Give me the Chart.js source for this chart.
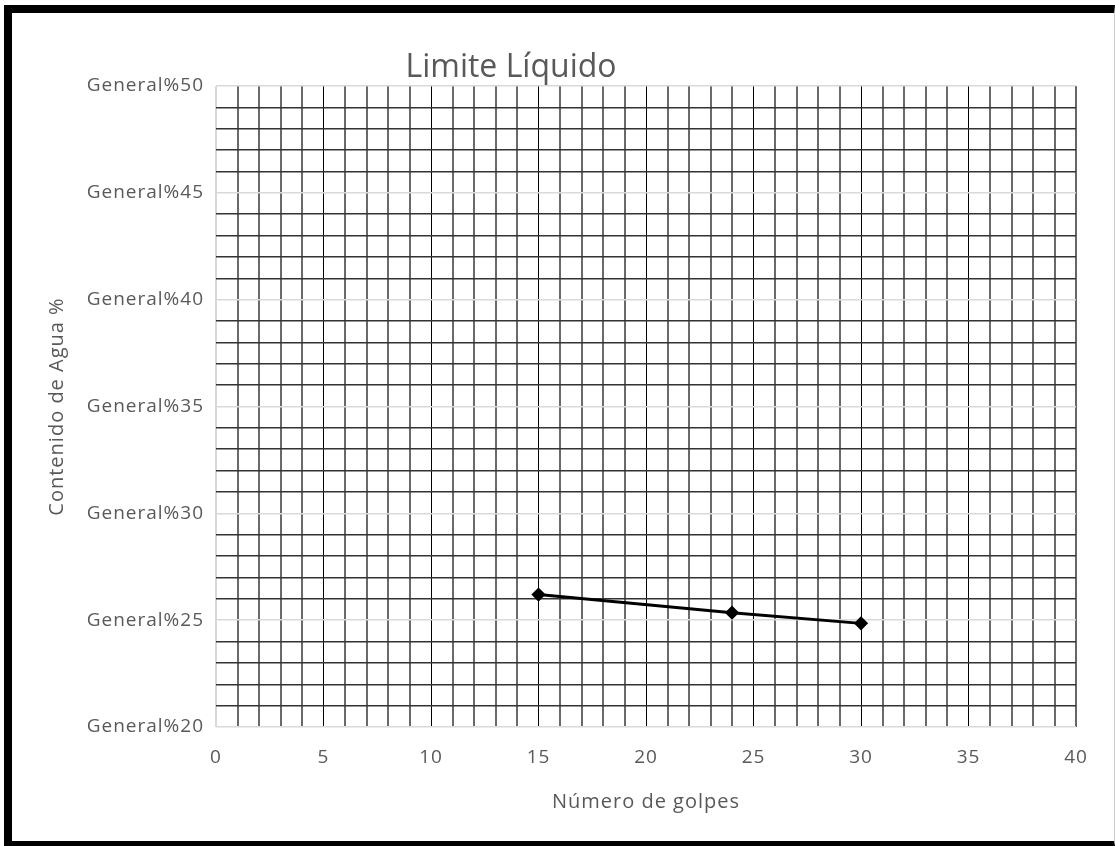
<!DOCTYPE html>
<html>
<head>
<meta charset="utf-8">
<script src="https://cdn.jsdelivr.net/npm/chart.js@4/dist/chart.umd.min.js"></script>
<style>
  body { margin: 0; background: #fff; overflow: hidden; }
  #wrap { position: absolute; left: 0; top: 0; width: 1115px; height: 846px; }
  #frame {
    position: absolute; left: 4px; top: 5px; width: 1111px; height: 841px;
    box-sizing: border-box; pointer-events: none;
    border-left: 8px solid #000; border-top: 8px solid #000;
    border-bottom: 5px solid #000; border-right: 1px solid #ccc;
  }
</style>
</head>
<body>
<div id="wrap"><canvas id="chart"></canvas></div>
<div id="frame"></div>
<script>
  // Limite liquido: golpes vs contenido de agua
  const golpes = [15, 24, 30];
  const contenidoAgua = [26.2, 25.35, 24.85];
  const xTicks = [0, 5, 10, 15, 20, 25, 30, 35, 40];
  const yTicks = [20, 25, 30, 35, 40, 45, 50];
  const chartTitle = 'Limite Líquido';

  const textColor = '#595959';

  // Excel text is spaced wider than Open Sans, widen axis text a bit
  const spacingPlugin = {
    id: 'spacing',
    beforeDraw(chart) {
      chart.ctx.letterSpacing = '1px';
    }
  };

  // draws the title where Excel put it (not centred on the canvas)
  const titlePlugin = {
    id: 'excelTitle',
    afterDraw(chart) {
      const c = chart.ctx;
      c.save();
      c.letterSpacing = '0px';
      c.font = '32px "Open Sans"';
      c.fillStyle = textColor;
      c.textAlign = 'center';
      c.textBaseline = 'middle';
      c.fillText(chartTitle, 511, 68);
      c.restore();
    }
  };

  const ctx = document.getElementById('chart').getContext('2d');

  new Chart(ctx, {
    type: 'scatter',
    data: {
      datasets: [{
        label: 'Contenido de Agua',
        data: golpes.map((g, i) => ({ x: g, y: contenidoAgua[i] })),
        showLine: true,
        borderColor: '#000',
        backgroundColor: '#000',
        borderWidth: 3,
        pointStyle: 'rectRot',
        pointRadius: 5,
        tension: 0
      }]
    },
    options: {
      responsive: true,
      maintainAspectRatio: false,
      animation: false,
      layout: { padding: { left: 12, right: 39, top: 86, bottom: 0 } },
      plugins: {
        legend: { display: false },
        tooltip: { enabled: false },
        title: { display: false }
      },
      scales: {
        x: {
          type: 'linear',
          min: xTicks[0],
          max: xTicks[xTicks.length - 1],
          afterFit: s => { s.height = 119; },
          border: { display: false },
          grid: {
            drawTicks: false,
            color: c => {
              const v = c.tick.value;
              if (v === 0) return '#d9d9d9';
              if (v === 40) return '#666';
              return v % 5 === 0 ? '#000' : '#6a6a6a';
            },
            lineWidth: c => (c.tick.value % 5 === 0 && c.tick.value !== 0 && c.tick.value !== 40) ? 1 : 2
          },
          ticks: {
            stepSize: 1,
            autoSkip: false,
            maxRotation: 0,
            padding: 19,
            color: textColor,
            font: { family: 'Open Sans', size: 19 },
            callback: v => xTicks.includes(v) ? String(v) : ''
          },
          title: {
            display: true,
            text: 'Número de golpes',
            color: textColor,
            font: { family: 'Open Sans', size: 20 },
            padding: { top: 32, bottom: 32 }
          }
        },
        y: {
          min: yTicks[0],
          max: yTicks[yTicks.length - 1],
          afterFit: s => { s.width = 204; },
          border: { display: false },
          grid: {
            drawTicks: false,
            color: c => c.tick.value % 5 === 0 ? '#d9d9d9' : '#333',
            lineWidth: 1.5
          },
          ticks: {
            stepSize: 1,
            autoSkip: false,
            padding: 12,
            color: textColor,
            font: { family: 'Open Sans', size: 19 },
            callback: v => yTicks.includes(v) ? 'General%' + v : ''
          },
          title: {
            display: true,
            text: 'Contenido de Agua %',
            color: textColor,
            font: { family: 'Open Sans', size: 20 },
            padding: { top: 33, bottom: 33 }
          }
        }
      }
    },
    plugins: [spacingPlugin, titlePlugin]
  });
</script>
</body>
</html>
